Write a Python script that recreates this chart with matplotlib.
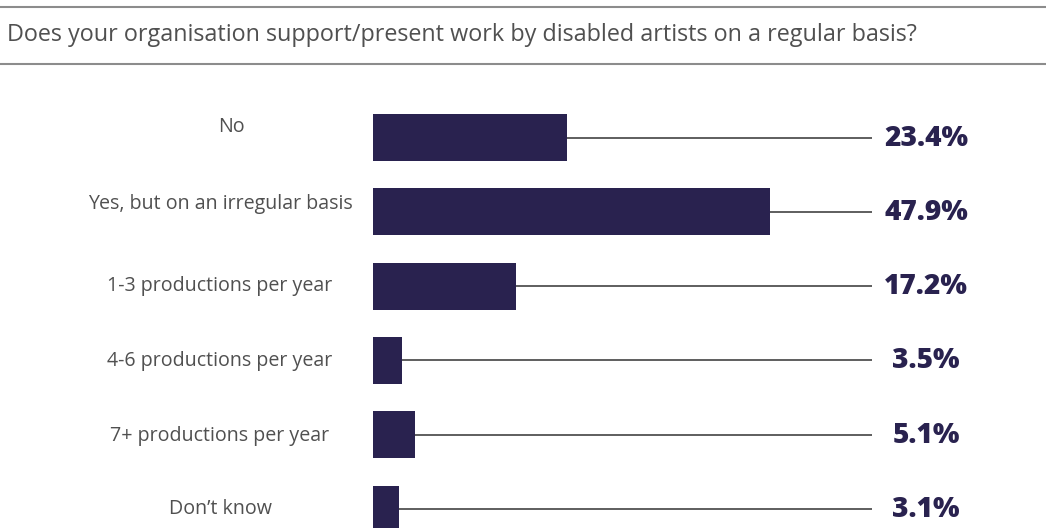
import matplotlib
matplotlib.use("Agg")
import matplotlib.pyplot as plt
from matplotlib.lines import Line2D

categories = [
    "No",
    "Yes, but on an irregular basis",
    "1-3 productions per year",
    "4-6 productions per year",
    "7+ productions per year",
    "Don\u2019t know",
]
values = [23.4, 47.9, 17.2, 3.5, 5.1, 3.1]
value_labels = ["23.4%", "47.9%", "17.2%", "3.5%", "5.1%", "3.1%"]
title = "Does your organisation support/present work by disabled artists on a regular basis?"

W, H = 1046, 528
BAR_COLOR = "#29224f"
TEXT_GRAY = "#505050"
RULE_GRAY = "#8c8c8c"

fig = plt.figure(figsize=(W / 100, H / 100), dpi=100)
fig.patch.set_facecolor("white")

# Axes spans the whole canvas; x in percent, y in pixel rows (top = 0)
ax = fig.add_axes([0, 0, 1, 1])
px_per_pct = 8.29
x0 = 373
ax.set_xlim(-x0 / px_per_pct, (W - x0) / px_per_pct)
ax.set_ylim(H, 0)
ax.axis("off")

row_top = 137.5
row_step = 74.3
bar_h = 47
line_end = (872 - x0) / px_per_pct
label_center = (926 - x0) / px_per_pct
cat_center = (220 - x0) / px_per_pct
# small per-row nudges of the category labels (pixels)
cat_dx = [11, 0, 0, 0, 0, 0]
cat_dy = [-6, -3, 5, 5.6, 6.3, 5]

ys = [row_top + i * row_step for i in range(len(values))]

ax.barh(ys, values, height=bar_h, color=BAR_COLOR, left=0)
for y, v, lab, cat, dx, dy in zip(ys, values, value_labels, categories, cat_dx, cat_dy):
    ax.plot([v, line_end], [y, y], color="#333333", lw=1.1, solid_capstyle="butt")
    ax.text(label_center, y + 8, lab, ha="center", va="baseline", fontsize=20.2,
            fontweight=800, color=BAR_COLOR, family="Open Sans")
    ax.text(cat_center + dx / px_per_pct, y + dy, cat, ha="center", va="baseline",
            fontsize=14.1, color=TEXT_GRAY, family="Open Sans")

# Title between two horizontal rules
fig.add_artist(Line2D([0, 1], [1 - 7 / H, 1 - 7 / H], color=RULE_GRAY, lw=1.5))
fig.add_artist(Line2D([0, 1], [1 - 64 / H, 1 - 64 / H], color=RULE_GRAY, lw=1.5))
fig.text(7 / W, 1 - 41 / H, title, ha="left", va="baseline", fontsize=16.8,
         color=TEXT_GRAY, family="Open Sans")

fig.savefig("out.png", dpi=100, facecolor="white")
